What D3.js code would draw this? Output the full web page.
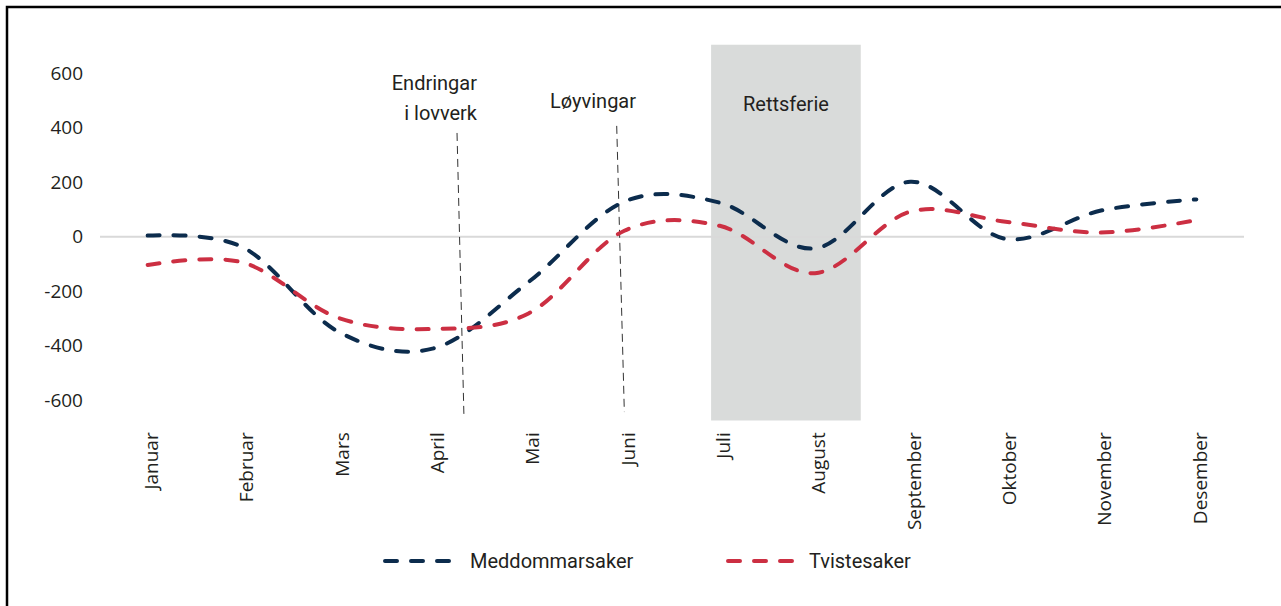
<!DOCTYPE html>
<html>
<head>
<meta charset="utf-8">
<script src="https://cdn.jsdelivr.net/npm/d3@7"></script>
<style>
  body { margin: 0; background: #fff; }
  svg { display: block; }
</style>
</head>
<body>
<div id="chart"></div>
<script>
(function(){
  // data
  const months = ['Januar', 'Februar', 'Mars', 'April', 'Mai', 'Juni', 'Juli',
    'August', 'September', 'Oktober', 'November', 'Desember'];
  const meddommar = [4, -39, -349, -410, -165, 129, 125, -43, 202, -8, 96, 137];
  const tviste = [-104, -95, -298, -339, -281, 22, 40, -134, 92, 55, 15, 61];
  const yTicks = [-600, -400, -200, 0, 200, 400, 600];

  // annotations (month index, value)
  const ferie = { label: 'Rettsferie', from: 5.91, to: 7.48, top: 705, bottom: -675 };
  const markers = [
    { lines: ['Endringar', 'i lovverk'], x1: 3.245, y1: 381, x2: 3.318, y2: -666 },
    { lines: ['Løyvingar'], x1: 4.92, y1: 407, x2: 5.0, y2: -644 }
  ];

  const width = 1281;
  const height = 606;
  const left = 100, right = 1244;

  const svg = d3.select('#chart')
    .append('svg')
    .attr('width', width)
    .attr('height', height);

  // frame (only top + left edge fall inside the picture)
  svg.append('rect')
    .attr('x', 7).attr('y', 7)
    .attr('width', 1290).attr('height', 620)
    .attr('fill', 'none')
    .attr('stroke', '#000')
    .attr('stroke-width', 2.5);

  const x = d3.scaleBand()
    .domain(months)
    .range([left, right])
    .padding(0);
  const xi = d3.scaleLinear()
    .domain([-0.5, months.length - 0.5])
    .range([left, right]);
  const y = d3.scaleLinear()
    .domain([-700, 700])
    .range([427.3, 46.1]);

  // rettsferie band
  svg.append('rect')
    .attr('x', xi(ferie.from))
    .attr('y', y(ferie.top))
    .attr('width', xi(ferie.to) - xi(ferie.from))
    .attr('height', y(ferie.bottom) - y(ferie.top))
    .attr('fill', '#d9dbda');
  svg.append('text')
    .attr('x', (xi(ferie.from) + xi(ferie.to)) / 2)
    .attr('y', 111)
    .attr('text-anchor', 'middle')
    .style('font', '20px Roboto')
    .style('fill', '#231f20')
    .text(ferie.label);

  // zero line
  svg.append('line')
    .attr('x1', left).attr('x2', right)
    .attr('y1', y(0)).attr('y2', y(0))
    .attr('stroke', '#d9d9d9')
    .attr('stroke-width', 2);

  // y axis
  const yAxis = svg.append('g')
    .attr('transform', 'translate(' + left + ',0)')
    .call(d3.axisLeft(y).tickValues(yTicks).tickSize(0).tickPadding(17)
      .tickFormat(function(d) { return String(d); }));
  yAxis.select('.domain').remove();
  yAxis.selectAll('text')
    .style('font', '19px "Open Sans"')
    .style('fill', '#231f20');

  // x axis, labels rotated
  const xAxis = svg.append('g')
    .attr('transform', 'translate(0,' + y(-700) + ')')
    .call(d3.axisBottom(x).tickSize(0));
  xAxis.select('.domain').remove();
  xAxis.selectAll('text')
    .attr('transform', 'rotate(-90)')
    .attr('x', -5)
    .attr('y', 0)
    .attr('dy', '0.55em')
    .attr('text-anchor', 'end')
    .style('font', '19px "Open Sans"')
    .style('fill', '#231f20');

  // marker lines + labels
  markers.forEach(function(m, i) {
    svg.append('line')
      .attr('x1', xi(m.x1)).attr('y1', y(m.y1))
      .attr('x2', xi(m.x2)).attr('y2', y(m.y2))
      .attr('stroke', '#333')
      .attr('stroke-width', 1)
      .attr('stroke-dasharray', '8,5');
  });
  const endr = svg.append('text')
    .attr('text-anchor', 'end')
    .style('font', '20px Roboto')
    .style('fill', '#231f20');
  markers[0].lines.forEach(function(t, i) {
    endr.append('tspan').attr('x', 477).attr('y', 90 + i * 30).text(t);
  });
  svg.append('text')
    .attr('x', 593).attr('y', 108)
    .attr('text-anchor', 'middle')
    .style('font', '20px Roboto')
    .style('fill', '#231f20')
    .text(markers[1].lines[0]);

  // series
  const series = [
    { name: 'Meddommarsaker', values: meddommar, color: '#0c2c4d', lx: 385, tx: 470 },
    { name: 'Tvistesaker', values: tviste, color: '#cc2f42', lx: 728, tx: 809 }
  ];

  const line = d3.line()
    .x(function(d, i) { return x(months[i]) + x.bandwidth() / 2; })
    .y(function(d) { return y(d); })
    .curve(d3.curveCardinal.tension(0));

  series.forEach(function(s) {
    svg.append('path')
      .datum(s.values)
      .attr('d', line)
      .attr('fill', 'none')
      .attr('stroke', s.color)
      .attr('stroke-width', 4)
      .attr('stroke-linecap', 'round')
      .attr('stroke-dasharray', '12,14');
  });

  // legend
  const legend = svg.selectAll('.legend')
    .data(series)
    .enter()
    .append('g')
    .attr('class', 'legend');
  legend.append('line')
    .attr('x1', function(d) { return d.lx; })
    .attr('x2', function(d) { return d.lx + 66; })
    .attr('y1', 561).attr('y2', 561)
    .attr('stroke', function(d) { return d.color; })
    .attr('stroke-width', 4)
    .attr('stroke-linecap', 'round')
    .attr('stroke-dasharray', '12,14');
  legend.append('text')
    .attr('x', function(d) { return d.tx; })
    .attr('y', 568)
    .style('font', '20px Roboto')
    .style('fill', '#231f20')
    .text(function(d) { return d.name; });
})();
</script>
</body>
</html>
